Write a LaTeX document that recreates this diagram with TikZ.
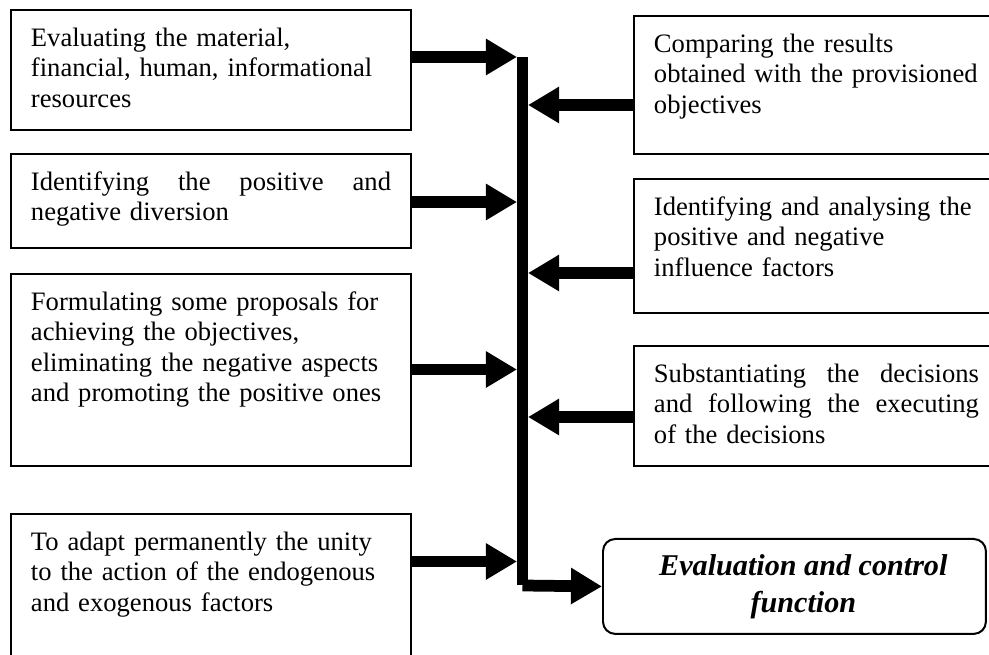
\documentclass[tikz,border=0pt]{standalone}
\usepackage{fontspec}
\setmainfont{Liberation Serif}
\usetikzlibrary{arrows.meta,positioning}
\tikzset{
    taskbox/.style={
        draw=black,
        line width=0.9pt,
        anchor=north west,
        align=left,
        inner xsep=9pt,
        inner ysep=8.3pt,
        text height=8pt,
        font=\fontsize{12}{13.8}\selectfont,
    },
    leftbox/.style={
        taskbox,
        text width=162.4pt,
    },
    rightbox/.style={
        taskbox,
        text width=146.6pt,
    },
    funcbox/.style={
        draw=black,
        line width=0.9pt,
        rounded corners=5.5pt,
        anchor=north west,
        minimum width=172.7pt,
        minimum height=42.8pt,
        inner sep=0pt,
        align=center,
        font=\fontsize{13.6}{16.8}\selectfont\bfseries\itshape,
    },
    flow/.style={
        line width=5.3pt,
        -{Triangle[length=14pt,width=15.5pt]},
    },
}

\begin{document}
\begin{tikzpicture}[x=0.451pt,y=-0.451pt]
    \useasboundingbox (0,0) rectangle (989,655);
    \clip (0,0) rectangle (989,655);

    % left column
    \node [leftbox, text depth=29.5pt] (eval) at (10,9)
        {Evaluating the material,\\financial, human, informational\\resources};
    \node [leftbox, text depth=17.8pt] (diverg) at (10,153)
        {Identifying\hfill the\hfill positive\hfill and\\negative diversion};
    \node [leftbox, text depth=62pt] (propos) at (10,273)
        {Formulating some proposals for\\achieving the objectives,\\eliminating the negative aspects\\and promoting the positive ones};
    \node [leftbox, text depth=62pt] (adapt) at (10,513)
        {To adapt permanently the unity\\to the action of the endogenous\\and exogenous factors};

    % right column
    \node [rightbox, text depth=37.6pt] (compar) at (633,15)
        {Comparing the results\\obtained with the provisioned\\objectives};
    \node [rightbox, text depth=35.8pt] (factors) at (633,178)
        {Identifying and analysing the\\positive and negative\\influence factors};
    \node [rightbox, text depth=29.5pt] (decis) at (633,345)
        {Substantiating\hfill the\hfill decisions\\and\hfill following\hfill the\hfill executing\\of the decisions};
    \node [funcbox] (func) at (602,538)
        {\hspace*{8pt}Evaluation and control\\\hspace*{8pt}function};

    % the bus
    \coordinate (bustop) at (522.5,57);
    \coordinate (busbot) at (522.5,585.5);
    \coordinate (in1) at (517,57);
    \coordinate (in2) at (517,202);
    \coordinate (in3) at (517,369.5);
    \coordinate (in4) at (517,561.5);
    \coordinate (out1) at (528,105);
    \coordinate (out2) at (528,273);
    \coordinate (out3) at (528,417);
    \draw [line width=5pt] (bustop) -- (busbot);

    \draw [flow] (eval.east |- in1) -- (in1);
    \draw [flow] (diverg.east |- in2) -- (in2);
    \draw [flow] (propos.east |- in3) -- (in3);
    \draw [flow] (adapt.east |- in4) -- (in4);
    \draw [flow] (compar.west |- out1) -- (out1);
    \draw [flow] (factors.west |- out2) -- (out2);
    \draw [flow] (decis.west |- out3) -- (out3);
    \draw [flow] (busbot) -- (func.west);
\end{tikzpicture}
\end{document}
